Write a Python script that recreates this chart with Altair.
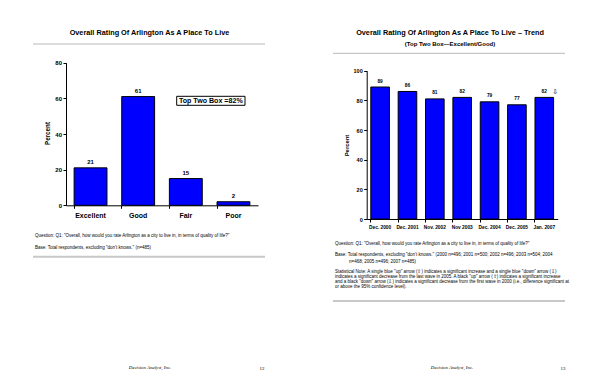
import altair as alt
import pandas as pd

# ---------------- data ----------------
ratings = ["Excellent", "Good", "Fair", "Poor"]
rating_pct = [21, 61, 15, 2]

waves = ["Dec. 2000", "Dec. 2001", "Nov. 2002", "Nov 2003", "Dec. 2004", "Dec. 2005", "Jan. 2007"]
top_two = [89, 86, 81, 82, 79, 77, 82]
sig_arrows = ["", "", "", "", "", "", "\u21e9"]

left_y_ticks = [0, 20, 40, 60, 80]
right_y_ticks = [0, 20, 40, 60, 80, 100]

left_title = "Overall Rating Of Arlington As A Place To Live"
right_title = "Overall Rating Of Arlington As A Place To Live \u2013 Trend"
right_subtitle = "(Top Two Box\u2014Excellent/Good)"
box_label = "Top Two Box =82%"

question = 'Question:  Q1: "Overall, how would you rate Arlington as a city to live in, in terms of quality of life?"'
left_base = 'Base:  Total respondents, excluding "don\u2019t knows."  (n=485)'
right_base = [
    'Base:  Total respondents, excluding "don\u2019t knows."  (2000 n=496; 2001 n=500; 2002 n=496; 2003 n=504; 2004',
    "n=468; 2005 n=496; 2007 n=485)",
]
stat_note = [
    'Statistical Note:  A single blue "up" arrow (\u21e7) indicates a significant increase and a single blue "down" arrow (\u21e9)',
    'indicates a significant decrease from the last wave in 2005.  A black "up" arrow (\u21e7) indicates a significant increase',
    'and a black "down" arrow (\u21e9) indicates a significant decrease from the first wave in 2000 (i.e., difference significant at',
    "or above the 95% confidence level).",
]
footer = "Decision Analyst, Inc."
page_numbers = ["12", "13"]

W, H = 584, 372
FONT = "Liberation Sans"
BLUE = "#0000FF"
NOTE = 4.5

left_df = pd.DataFrame({"rating": ratings, "pct": rating_pct})
right_df = pd.DataFrame({"wave": waves, "top2": top_two, "arrow": sig_arrows})


def txt(s, x, y, size, weight="normal", align="center", font=FONT, style="normal"):
    return alt.Chart(pd.DataFrame({"t": [s]})).mark_text(
        fontSize=size, fontWeight=weight, align=align, baseline="middle",
        font=font, fontStyle=style, color="black"
    ).encode(x=alt.value(x), y=alt.value(y), text="t:N")


def hline(x1, x2, y, color="#b8b8b8", width=1):
    return alt.Chart(pd.DataFrame({"a": [0]})).mark_rule(color=color, strokeWidth=width).encode(
        x=alt.value(x1), x2=alt.value(x2), y=alt.value(y)
    )


# ---------------- left panel ----------------
L_Y0, L_Y1 = 197.3, 54.7
lx = alt.X("rating:N", sort=ratings, title=None,
           scale=alt.Scale(range=[58, 250], paddingInner=0.31, paddingOuter=0.17),
           axis=alt.Axis(orient="bottom", offset=-(H - L_Y0), bandPosition=0, labelAngle=0,
                         labelFont=FONT, labelFontSize=7, labelFontWeight="bold", labelColor="black",
                         labelPadding=3, tickSize=3, tickColor="black", domainColor="black"))
ly = alt.Y("pct:Q", title="Percent",
           scale=alt.Scale(domain=[0, 80], range=[L_Y0, L_Y1], nice=False),
           axis=alt.Axis(orient="left", offset=-58, values=left_y_ticks, grid=False,
                         labelFont=FONT, labelFontSize=6, labelFontWeight="bold", labelColor="black",
                         labelPadding=1.5, tickSize=3, tickColor="black", domainColor="black",
                         titleFont=FONT, titleFontSize=6.3, titleFontWeight="bold", titleColor="black",
                         titleX=-19, titleY=125, titleAngle=270, titleAlign="center",
                         titleBaseline="middle"))
left_bars = alt.Chart(left_df).mark_bar(color=BLUE, stroke="black", strokeWidth=1).encode(x=lx, y=ly)
left_vals = alt.Chart(left_df).mark_text(font=FONT, fontSize=6, fontWeight="bold", baseline="bottom",
                                         dy=-3, color="black").encode(
    x=alt.X("rating:N", sort=ratings), y="pct:Q", text="pct:Q")
left_panel = alt.layer(left_bars, left_vals)

# ---------------- right panel ----------------
R_Y0, R_Y1 = 211, 62.7
rx = alt.X("wave:N", sort=waves, title=None,
           scale=alt.Scale(range=[358.7, 549.7], paddingInner=0.32, paddingOuter=0.15),
           axis=alt.Axis(orient="bottom", offset=-(H - R_Y0), bandPosition=0, labelAngle=0,
                         labelFont=FONT, labelFontSize=4.8, labelFontWeight="bold", labelColor="black",
                         labelPadding=2, tickSize=3, tickColor="black", domainColor="black"))
ry = alt.Y("top2:Q", title="Percent",
           scale=alt.Scale(domain=[0, 100], range=[R_Y0, R_Y1], nice=False),
           axis=alt.Axis(orient="left", offset=-358.7, values=right_y_ticks, grid=False,
                         labelFont=FONT, labelFontSize=5.5, labelFontWeight="bold", labelColor="black",
                         labelPadding=1.5, tickSize=3, tickColor="black", domainColor="black",
                         titleFont=FONT, titleFontSize=5.9, titleFontWeight="bold", titleColor="black",
                         titleX=-20, titleY=137, titleAngle=270, titleAlign="center",
                         titleBaseline="middle"))
right_bars = alt.Chart(right_df).mark_bar(color=BLUE, stroke="black", strokeWidth=1).encode(x=rx, y=ry)
right_vals = alt.Chart(right_df).mark_text(font=FONT, fontSize=4.8, fontWeight="bold", baseline="bottom",
                                           dy=-3.5, color="black").encode(
    x=alt.X("wave:N", sort=waves), y="top2:Q", text="top2:Q")
right_arrows = alt.Chart(right_df).mark_text(font="DejaVu Sans", fontSize=7, baseline="bottom",
                                             dx=11, dy=-2.5, color="black").encode(
    x=alt.X("wave:N", sort=waves), y="top2:Q", text="arrow:N")
right_panel = alt.layer(right_bars, right_vals, right_arrows)

# ---------------- annotations ----------------
box = alt.Chart(pd.DataFrame({"a": [0]})).mark_rect(fill="white", stroke="black", strokeWidth=1).encode(
    x=alt.value(168.7), x2=alt.value(237), y=alt.value(88.3), y2=alt.value(97.3))

annotations = [
    txt(left_title, 141.5, 24.7, 7.3, "bold"),
    hline(25, 257, 36),
    box,
    txt(box_label, 202.8, 92.9, 7.1, "bold"),
    txt(question, 27, 227.7, NOTE, align="left"),
    txt(left_base, 27, 239.7, NOTE, align="left"),
    hline(25, 257, 248.7, "#c8c8c8", 2),
    txt(footer, 142, 360, 4.8, font="Liberation Serif", style="italic"),
    txt(page_numbers[0], 254, 360, 5, font="Liberation Serif"),

    txt(right_title, 442, 24.7, 7.3, "bold"),
    txt(right_subtitle, 442, 36, 6, "bold"),
    hline(325, 557, 45.3),
    txt(question, 327, 236.3, NOTE, align="left"),
    txt(right_base[0], 327, 247.3, NOTE, align="left"),
    txt(right_base[1], 341, 253.7, NOTE, align="left"),
    txt(stat_note[0], 327, 263.7, NOTE, align="left"),
    txt(stat_note[1], 327, 268.9, NOTE, align="left"),
    txt(stat_note[2], 327, 274.1, NOTE, align="left"),
    txt(stat_note[3], 327, 279.3, NOTE, align="left"),
    hline(325, 557, 293, "#c8c8c8", 2),
    txt(footer, 444, 360, 4.8, font="Liberation Serif", style="italic"),
    txt(page_numbers[1], 555, 360, 5, font="Liberation Serif"),
]

chart = alt.layer(left_panel, right_panel, *annotations).resolve_scale(
    x="independent", y="independent"
).resolve_axis(
    x="independent", y="independent"
).properties(
    width=W, height=H, padding=0, background="white",
    autosize=alt.AutoSizeParams(type="none"),
).configure_view(stroke=None)

chart.save("out.html", embed_options={"renderer": "svg", "actions": False})
